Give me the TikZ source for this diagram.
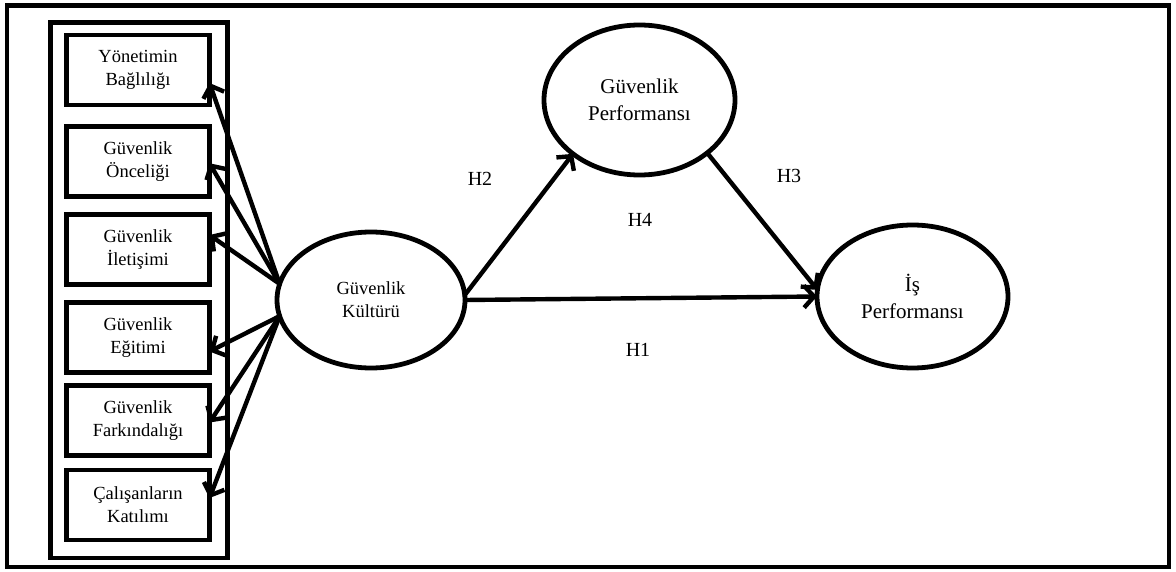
\documentclass[tikz,border=0pt]{standalone}
\usepackage{fontspec}
\setmainfont{Liberation Serif}
\usetikzlibrary{arrows.meta,shapes.geometric}
\begin{document}
\begin{tikzpicture}[x=1pt,y=-1pt,
  frame/.style={draw,line width=4.6pt},
  fbox/.style={draw,line width=4.8pt,minimum width=143pt,minimum height=70pt,inner sep=0pt,outer sep=0pt,align=center,font=\fontsize{18.5}{23}\selectfont},
  lat/.style={draw,ellipse,line width=4.8pt,inner sep=0pt,outer sep=0pt,align=center},
  conn/.style={line width=4.4pt,-{Straight Barb[length=10pt,width=22pt]},line cap=round,line join=round},
  hlab/.style={font=\fontsize{20}{24}\selectfont}]
\useasboundingbox (0,0) rectangle (1176,572);
\fill[white] (0,0) rectangle (1176,572);
\draw[frame] (7,5.5) rectangle (1169,567);
\draw[frame] (50.5,22.5) rectangle (227.5,558);

\node[fbox] (b1) at (138,70) {Yönetimin\\Bağlılığı};
\node[fbox] (b2) at (138,161.75) {Güvenlik\\Önceliği};
\node[fbox] (b3) at (138,249.5) {Güvenlik\\İletişimi};
\node[fbox] (b4) at (138,337.5) {Güvenlik\\Eğitimi};
\node[fbox] (b5) at (138,420.5) {Güvenlik\\Farkındalığı};
\node[fbox] (b6) at (138,505) {Çalışanların\\Katılımı};

\node[lat,minimum width=188pt,minimum height=136pt,font=\fontsize{18.5}{23}\selectfont] (kult) at (371,300) {Güvenlik\\Kültürü};
\node[lat,minimum width=191pt,minimum height=150pt,font=\fontsize{21}{27}\selectfont] (perf) at (639.5,100) {Güvenlik\\Performansı};
\node[lat,minimum width=191pt,minimum height=143pt,font=\fontsize{21}{27}\selectfont] (is) at (912.5,296.5) {İş\\Performansı};

\draw[conn] (kult.170) -- ([yshift=-13pt]b1.east);
\draw[conn] (kult.170) -- ([yshift=-1.5pt]b2.east);
\draw[conn] (kult.170) -- ([yshift=14.5pt]b3.east);
\draw[conn] (kult.190) -- ([yshift=-14pt]b4.east);
\draw[conn] (kult.190) -- ([yshift=-2pt]b5.east);
\draw[conn] (kult.190) -- ([yshift=7pt]b6.east);

\draw[conn] (kult.3) -- (perf.219);
\draw[conn] (kult.east) -- (is.west);
\draw[conn] (perf.-38) -- (is.176);

\node[hlab] (h2) at (480,179) {H2};
\node[hlab] (h4) at (640,220) {H4};
\node[hlab] (h3) at (789,176) {H3};
\node[hlab] (h1) at (638,350) {H1};
\end{tikzpicture}
\end{document}
